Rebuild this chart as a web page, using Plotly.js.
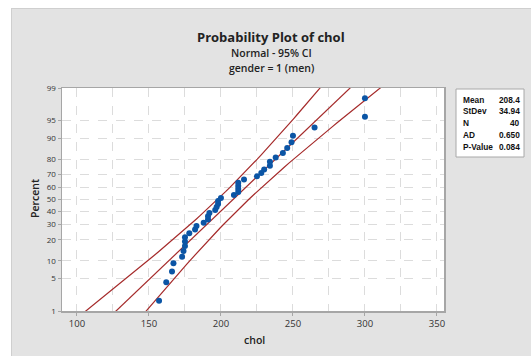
<!DOCTYPE html>
<html>
<head>
<meta charset="utf-8">
<script src="https://cdn.plot.ly/plotly-3.0.1.min.js"></script>
<style>html,body{margin:0;padding:0;background:#fff;}#chart{width:531px;height:356px;}</style>
</head>
<body>
<div id="chart"></div>
<script>
// ---- data ----
const chol = [157,162,166,167,173,174,175,175,175,178,182,183,188,191,191,192,196,197,198,198,
              200,209,212,212,212,212,216,225,228,230,234,234,238,243,246,249,250,265,300,300];
// median-rank plotting positions (percent) for ranks 1..40
const percent = [1.73,4.21,6.68,9.16,11.63,14.11,16.58,19.06,21.53,24.01,26.49,28.96,31.44,33.91,36.39,38.86,41.34,43.81,46.29,48.76,
                 51.24,53.71,56.19,58.66,61.14,63.61,66.09,68.56,71.04,73.51,75.99,78.47,80.94,83.42,85.89,88.37,90.84,93.32,95.79,98.27];
const meanVal = 208.4, sdVal = 34.94, nVal = 40;
const percentTicks = [1,5,10,20,30,40,50,60,70,80,90,95,99];
const xTicks = [100,150,200,250,300,350];
const statLabels = ["Mean","StDev","N","AD","P-Value"];
const statValues = ["208.4","34.94","40","0.650","0.084"];

// inverse standard normal CDF (Acklam)
function qnorm(p){
  const a=[-3.969683028665376e+01,2.209460984245205e+02,-2.759285104469687e+02,1.383577518672690e+02,-3.066479806614716e+01,2.506628277459239e+00];
  const b=[-5.447609879822406e+01,1.615858368580409e+02,-1.556989798598866e+02,6.680131188771972e+01,-1.328068155288572e+01];
  const c=[-7.784894002430293e-03,-3.223964580411365e-01,-2.400758277161838e+00,-2.549671503714215e+00,4.374664141464968e+00,2.938163982698783e+00];
  const d=[7.784695709041462e-03,3.224671290700398e-01,2.445134137142996e+00,3.754408661907416e+00];
  const pl=0.02425, ph=1-pl; let q,r;
  if(p<pl){q=Math.sqrt(-2*Math.log(p));return (((((c[0]*q+c[1])*q+c[2])*q+c[3])*q+c[4])*q+c[5])/((((d[0]*q+d[1])*q+d[2])*q+d[3])*q+1);}
  if(p<=ph){q=p-0.5;r=q*q;return (((((a[0]*r+a[1])*r+a[2])*r+a[3])*r+a[4])*r+a[5])*q/(((((b[0]*r+b[1])*r+b[2])*r+b[3])*r+b[4])*r+1);}
  q=Math.sqrt(-2*Math.log(1-p));return -(((((c[0]*q+c[1])*q+c[2])*q+c[3])*q+c[4])*q+c[5])/((((d[0]*q+d[1])*q+d[2])*q+d[3])*q+1);
}
const zTop = qnorm(0.99), zBot = qnorm(0.01);

// fitted line and 95% CI along z
const zLine=[], xFit=[], xLo=[], xHi=[];
for(let k=0;k<=60;k++){
  const z = zBot - 0.2 + (zTop - zBot + 0.4)*k/60;
  const xp = meanVal + z*sdVal;
  const h = 1.96*sdVal*Math.sqrt(1/nVal + z*z/(2*nVal));
  zLine.push(z); xFit.push(xp); xLo.push(xp-h); xHi.push(xp+h);
}
const lineColor = '#a52a2a';
const traces = [
  {x:xHi, y:zLine, mode:'lines', line:{color:lineColor,width:1.2}, hoverinfo:'skip'},
  {x:xLo, y:zLine, mode:'lines', line:{color:lineColor,width:1.2}, hoverinfo:'skip'},
  {x:xFit, y:zLine, mode:'lines', line:{color:lineColor,width:1.2}, hoverinfo:'skip'},
  {x:chol, y:percent.map(p=>qnorm(p/100)), mode:'markers', marker:{color:'#0b55a5',size:6}, cliponaxis:true}
];

// geometry helpers (plot area 62..444 x 88..311 px)
const L=62,R=444,T=88,B=311;
const px = v => (v-L)/(R-L);
const py = v => (B-v)/(B-T);

const font = "'Open Sans', 'Noto Sans', sans-serif";
const annotations = [
  {text:'Probability Plot of chol', x:px(271), y:py(37), font:{size:13,color:'#222',weight:700}},
  {text:'Normal - 95% CI', x:px(271), y:py(52.5), font:{size:10.5,color:'#222',weight:600}},
  {text:'gender = 1 (men)', x:px(271), y:py(67.5), font:{size:10.5,color:'#222',weight:600}},
  {text:'Percent', x:px(35), y:py(199), textangle:-90, font:{size:10.5,color:'#222',weight:600}},
  {text:'chol', x:px(254), y:py(340), font:{size:10.5,color:'#222',weight:600}}
].map(a=>Object.assign({xref:'paper',yref:'paper',showarrow:false,xanchor:'center',yanchor:'middle'},a));
const statFont = {size:8.3,color:'#111',weight:700,family:"'Liberation Sans', Arial, sans-serif"};
statLabels.forEach((s,i)=>{
  const yy = 99.5 + i*11.8;
  annotations.push({text:s, xref:'paper', yref:'paper', x:px(461), y:py(yy), xanchor:'left', yanchor:'middle', showarrow:false, font:statFont});
  annotations.push({text:statValues[i], xref:'paper', yref:'paper', x:px(522), y:py(yy), xanchor:'right', yanchor:'middle', showarrow:false, font:statFont});
});

const shapes = [
  {type:'rect', xref:'paper', yref:'paper', x0:px(0), x1:px(531), y0:py(8), y1:py(0), fillcolor:'#ffffff', line:{width:0}},
  {type:'rect', xref:'paper', yref:'paper', x0:px(0), x1:px(11), y0:py(356), y1:py(0), fillcolor:'#ffffff', line:{width:0}},
  {type:'line', xref:'paper', yref:'paper', x0:px(11), x1:px(531), y0:py(8.5), y1:py(8.5), line:{color:'#cfcfcf',width:1}},
  {type:'line', xref:'paper', yref:'paper', x0:px(11.5), x1:px(11.5), y0:py(8), y1:py(356), line:{color:'#cfcfcf',width:1}},
  {type:'rect', xref:'paper', yref:'paper', x0:px(456), x1:px(524), y0:py(157), y1:py(89), fillcolor:'#ffffff', line:{color:'#a8a8a8',width:1}}
];

const layout = {
  width:531, height:356,
  margin:{l:L, r:531-R, t:T, b:356-B, pad:0},
  paper_bgcolor:'#e3e3e3', plot_bgcolor:'#ffffff',
  showlegend:false,
  font:{family:font, color:'#333'},
  xaxis:{range:[89.6,354.9], tickvals:xTicks, ticktext:xTicks.map(String),
         showgrid:true, gridcolor:'#dcdcdc', griddash:'dash', gridwidth:1,
         minor:{tickvals:[125,175,225,275,325], showgrid:true, gridcolor:'#dcdcdc', griddash:'dash', gridwidth:1},
         showline:true, mirror:true, linecolor:'#a6a6a6', linewidth:1.5,
         ticks:'outside', ticklen:3, tickcolor:'#a6a6a6', tickfont:{size:9.5,color:'#333'}, zeroline:false, fixedrange:true},
  yaxis:{range:[zBot,zTop], tickvals:percentTicks.map(p=>qnorm(p/100)), ticktext:percentTicks.map(String),
         showgrid:true, gridcolor:'#dcdcdc', griddash:'dash', gridwidth:1,
         showline:true, mirror:true, linecolor:'#a6a6a6', linewidth:1.5,
         ticks:'outside', ticklen:3, tickcolor:'#a6a6a6', tickfont:{size:8,color:'#333'}, zeroline:false, fixedrange:true},
  annotations:annotations, shapes:shapes
};
Plotly.newPlot('chart', traces, layout, {displayModeBar:false, staticPlot:true});
</script>
</body>
</html>
